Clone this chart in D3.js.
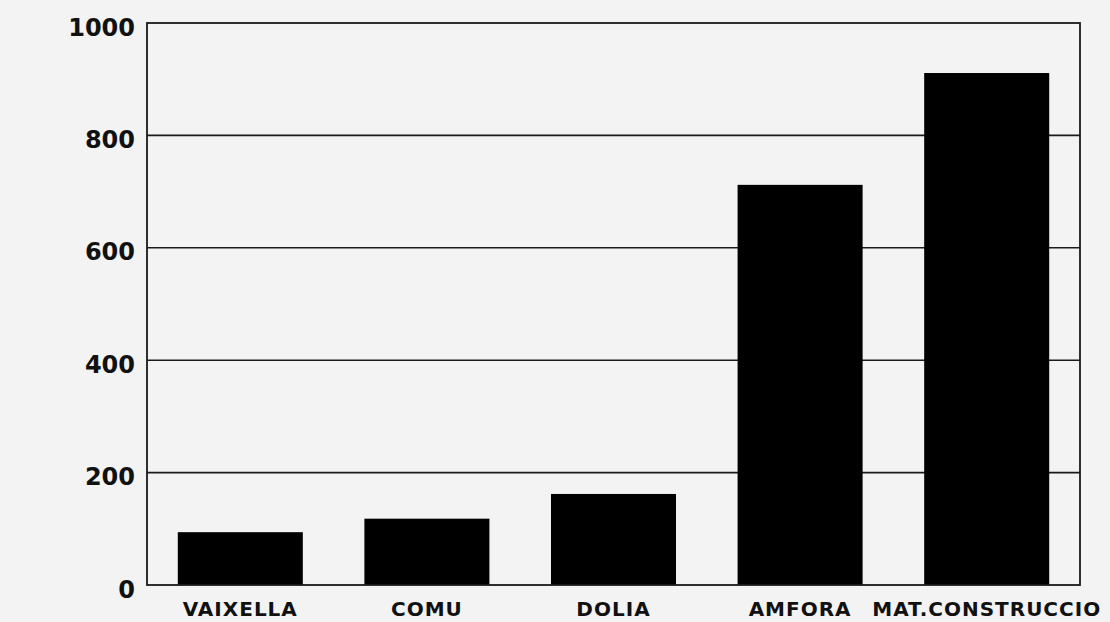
<!DOCTYPE html>
<html>
<head>
<meta charset="utf-8">
<script src="https://cdn.jsdelivr.net/npm/d3@7"></script>
<style>
  html, body { margin: 0; padding: 0; background: #f3f3f3; }
  svg { display: block; }
</style>
</head>
<body>
<svg id="chart" width="1110" height="622"></svg>
<script>
const categories = ["VAIXELLA", "COMU", "DOLIA", "AMFORA", "MAT.CONSTRUCCIO"];
const values = [94, 118, 162, 712, 911];
const yTicks = [0, 200, 400, 600, 800, 1000];

const svg = d3.select("#chart");
const W = 1110, H = 622;
const m = { left: 147, right: 30, top: 23, bottom: 37 };
const x0 = m.left, x1 = W - m.right, y0 = H - m.bottom, y1 = m.top;

svg.append("rect").attr("width", W).attr("height", H).attr("fill", "#f3f3f3");

const x = d3.scaleBand().domain(categories).range([x0, x1])
  .paddingInner(0.33).paddingOuter(0.165);
const y = d3.scaleLinear().domain([0, 1000]).range([y0, y1]);

// gridlines
svg.append("g").selectAll("line").data(yTicks.filter(d => d > 0 && d < 1000)).join("line")
  .attr("x1", x0).attr("x2", x1)
  .attr("y1", d => y(d)).attr("y2", d => y(d))
  .attr("stroke", "#1a1a1a").attr("stroke-width", 1.6);

// bars
svg.append("g").selectAll("rect").data(values).join("rect")
  .attr("x", (d, i) => x(categories[i]))
  .attr("width", x.bandwidth())
  .attr("y", d => y(d))
  .attr("height", d => y(0) - y(d))
  .attr("fill", "#000");

// frame
svg.append("rect")
  .attr("x", x0).attr("y", y1)
  .attr("width", x1 - x0).attr("height", y0 - y1)
  .attr("fill", "none").attr("stroke", "#1a1a1a").attr("stroke-width", 1.8);

// y axis labels
const yAxis = d3.axisLeft(y).tickValues(yTicks).tickSize(0).tickPadding(12).tickFormat(d3.format("d"));
const gy = svg.append("g").attr("transform", `translate(${x0},0)`).call(yAxis);
gy.select(".domain").remove();
gy.selectAll("text")
  .attr("font-family", "'DejaVu Sans', sans-serif")
  .attr("font-weight", "bold")
  .attr("font-size", 24)
  .attr("fill", "#111")
  .attr("dy", "0.5em");

// x axis labels
const xAxis = d3.axisBottom(x).tickSize(0).tickPadding(17);
const gx = svg.append("g").attr("transform", `translate(0,${y0})`).call(xAxis);
gx.select(".domain").remove();
gx.selectAll("text")
  .attr("font-family", "'DejaVu Sans', sans-serif")
  .attr("font-weight", "bold")
  .attr("font-size", 20)
  .attr("letter-spacing", "1px")
  .attr("fill", "#111");
</script>
</body>
</html>
